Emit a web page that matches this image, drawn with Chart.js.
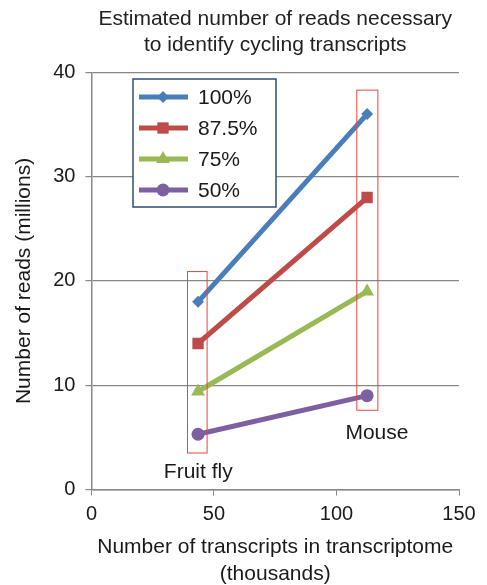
<!DOCTYPE html>
<html lang="en">
<head>
  <meta charset="UTF-8" />
  <title>Estimated number of reads</title>
  <script src="https://cdn.jsdelivr.net/npm/chart.js@4.4.1/dist/chart.umd.min.js"></script>
  <style>
    * { margin: 0; padding: 0; }
    body { background: #fff; width: 487px; height: 585px; overflow: hidden; }
    #wrap { width: 487px; height: 585px; position: relative; }
  </style>
</head>
<body>
  <div id="wrap"><canvas id="chart"></canvas></div>
  <script>
    // data
    const organisms = ['Fruit fly', 'Mouse'];
    const transcripts = [43.5, 112.5];            // thousands
    const seriesLabels = ['100%', '87.5%', '75%', '50%'];
    const reads100 = [18, 36];
    const reads875 = [14, 28];
    const reads75 = [9.4, 19];
    const reads50 = [5.3, 9];
    // highlight boxes round each organism: [xMin, xMax, yMin, yMax]
    const flyBox = [39.2, 47.2, 3.5, 20.9];
    const mouseBox = [108.3, 116.9, 7.6, 38.3];
    const flyLabelAt = [43.6, 1.7];
    const mouseLabelAt = [116.5, 5.4];

    const colors = ['#4a7ebb', '#be4b48', '#98b954', '#7d60a0'];
    const styles = ['rectRot', 'rect', 'triangle', 'circle'];
    const radii = [6, 8, 8, 6.5];
    const allReads = [reads100, reads875, reads75, reads50];
    const FONT = "'Liberation Sans', Arial, sans-serif";

    const datasets = allReads.map((vals, i) => ({
      label: seriesLabels[i],
      data: vals.map((v, j) => ({ x: transcripts[j], y: v })),
      borderColor: colors[i],
      backgroundColor: colors[i],
      borderWidth: 5,
      pointStyle: styles[i],
      pointRadius: radii[i],
      pointBorderWidth: 0,
      showLine: true
    }));

    const extras = {
      id: 'extras',
      afterDatasetsDraw(chart) {
        const { ctx, scales: { x, y } } = chart;
        ctx.save();
        ctx.strokeStyle = '#e8453c';
        ctx.lineWidth = 1;
        [flyBox, mouseBox].forEach(b => {
          const x0 = x.getPixelForValue(b[0]), x1 = x.getPixelForValue(b[1]);
          const y0 = y.getPixelForValue(b[3]), y1 = y.getPixelForValue(b[2]);
          ctx.strokeRect(x0, y0, x1 - x0, y1 - y0);
        });
        ctx.fillStyle = '#1a1a1a';
        ctx.font = '21px ' + FONT;
        ctx.textAlign = 'center';
        ctx.textBaseline = 'middle';
        ctx.fillText(organisms[0], x.getPixelForValue(flyLabelAt[0]), y.getPixelForValue(flyLabelAt[1]));
        ctx.fillText(organisms[1], x.getPixelForValue(mouseLabelAt[0]), y.getPixelForValue(mouseLabelAt[1]));

        // legend box
        const lx = 133, ly = 79, lw = 143, lh = 128;
        ctx.fillStyle = '#fff';
        ctx.fillRect(lx, ly, lw, lh);
        ctx.strokeStyle = '#2c4d75';
        ctx.lineWidth = 1.5;
        ctx.strokeRect(lx, ly, lw, lh);
        ctx.font = '21px ' + FONT;
        ctx.textAlign = 'left';
        chart.data.datasets.forEach((ds, i) => {
          const cy = 97 + i * 31;
          ctx.strokeStyle = ds.borderColor;
          ctx.lineWidth = 5;
          ctx.beginPath();
          ctx.moveTo(139, cy);
          ctx.lineTo(188, cy);
          ctx.stroke();
          ctx.fillStyle = ds.backgroundColor;
          Chart.helpers.drawPoint(ctx, { pointStyle: ds.pointStyle, radius: ds.pointRadius, borderWidth: 0 }, 163, cy);
          ctx.fillStyle = '#1a1a1a';
          ctx.fillText(ds.label, 198, cy + 1);
        });
        ctx.restore();
      }
    };

    new Chart(document.getElementById('chart'), {
      type: 'scatter',
      data: { datasets },
      options: {
        responsive: true,
        maintainAspectRatio: false,
        animation: false,
        layout: { padding: { top: 0, right: 28, left: 12, bottom: 0 } },
        plugins: {
          legend: { display: false },
          tooltip: { enabled: false },
          title: {
            display: true,
            fullSize: false,
            text: ['Estimated number of reads necessary', 'to identify cycling transcripts'],
            color: '#222',
            font: { family: FONT, size: 21, weight: 'normal', lineHeight: 1.2 },
            padding: { top: 7, bottom: 15 }
          }
        },
        scales: {
          x: {
            type: 'linear',
            min: 0, max: 150,
            ticks: { stepSize: 50, color: '#1a1a1a', font: { family: FONT, size: 20 }, padding: 7 },
            grid: { drawOnChartArea: false, drawTicks: true, tickLength: 6, color: '#888' },
            border: { color: '#888', width: 1.5 },
            title: {
              display: true,
              text: ['Number of transcripts in transcriptome', '(thousands)'],
              color: '#1a1a1a',
              font: { family: FONT, size: 21, lineHeight: 1.25 },
              padding: { top: 1, bottom: -2 }
            }
          },
          y: {
            min: 0, max: 40,
            ticks: { stepSize: 10, color: '#1a1a1a', font: { family: FONT, size: 20 }, padding: 10 },
            grid: { color: '#888', lineWidth: 1.2, tickLength: 6 },
            border: { color: '#888', width: 1.5 },
            title: {
              display: true,
              text: 'Number of reads (millions)',
              color: '#1a1a1a',
              font: { family: FONT, size: 21 },
              padding: { top: 0, bottom: 6 }
            }
          }
        }
      },
      plugins: [extras]
    });
  </script>
</body>
</html>
